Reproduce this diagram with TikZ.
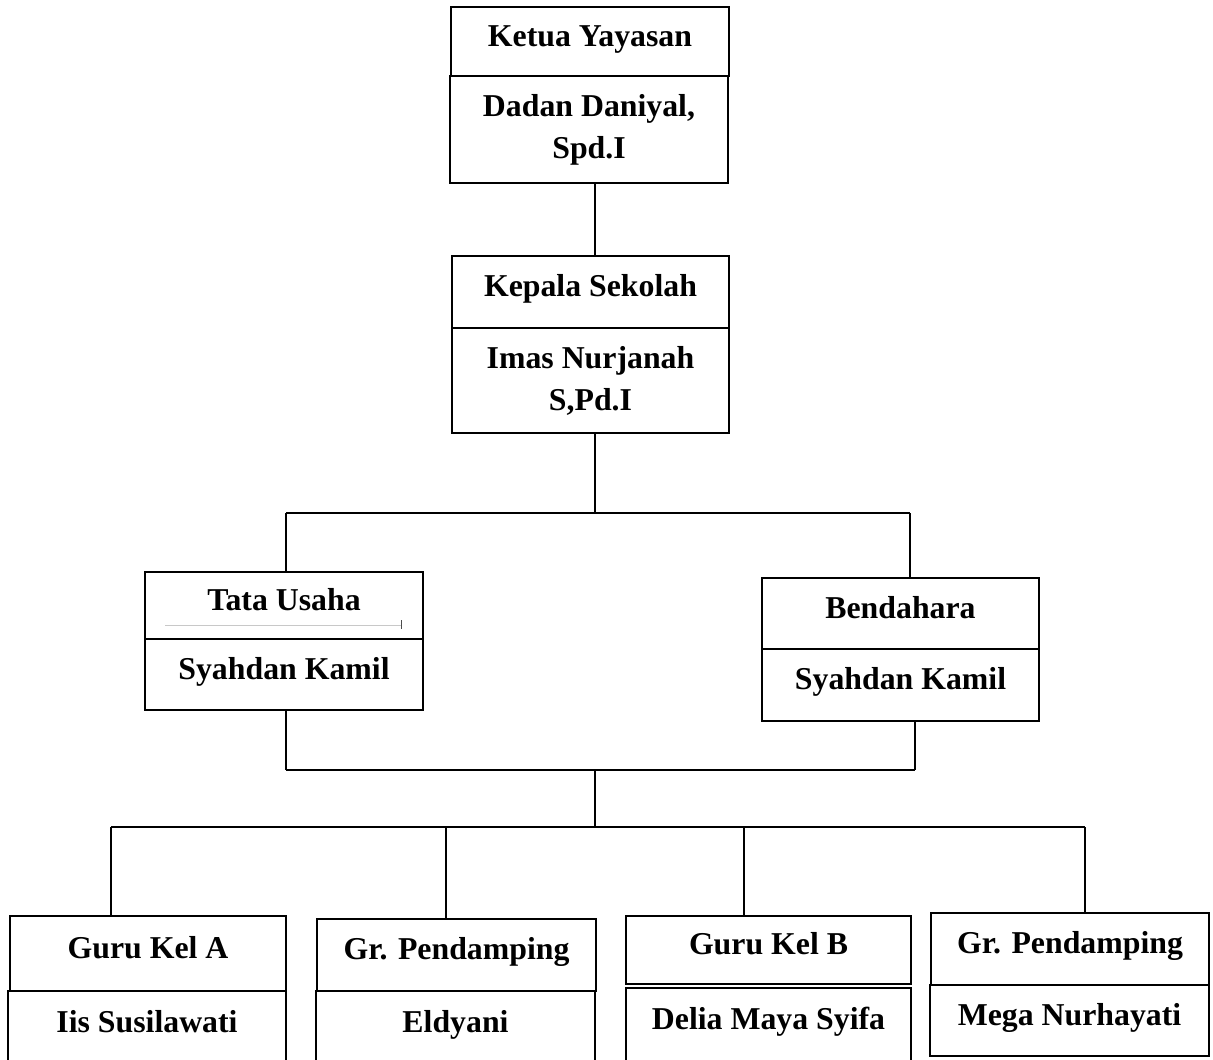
\documentclass[tikz,border=0pt]{standalone}
\usepackage{fontspec}
\setmainfont{Liberation Serif}
\usepackage{xcolor}
\definecolor{Hitam}{RGB}{0, 0, 0}
\definecolor{AbuMuda}{RGB}{200, 200, 200}
\tikzset{
    kotak/.style={draw=Hitam, line width=0.7pt, inner sep=0pt, align=center,
        font=\fontsize{15.9}{21}\selectfont\bfseries},
    satu/.style={kotak, text height=9.5pt, text depth=4.8pt},
    terbuka/.style={kotak, text height=20.5pt, text depth=40pt, anchor=base},
    garis/.style={draw=Hitam, line width=1pt},
    bus/.style={draw=Hitam, line width=1.4pt}
}

\begin{document}
\begin{tikzpicture}[x=0.5pt, y=-0.5pt]
            \useasboundingbox (0,0) rectangle (1213,1059);
            %Yayasan dan sekolah
            \node[satu, minimum width=139pt, minimum height=34.5pt] (A) at (590,41.5) {Ketua Yayasan};
            \node[kotak, minimum width=139pt, minimum height=53.5pt] (B) at (589,129.5) {Dadan Daniyal,\\Spd.I};
            \node[satu, minimum width=138.5pt, minimum height=36pt] (C) at (590.5,292) {Kepala Sekolah};
            \node[kotak, minimum width=138.5pt, minimum height=52.5pt] (D) at (590.5,380.5) {Imas Nurjanah\\S,Pd.I};
            %Tata usaha dan bendahara
            \node[satu, minimum width=139pt, minimum height=33.5pt] (E) at (284,605.5) {Tata Usaha};
            \node[satu, minimum width=139pt, minimum height=35.5pt] (F) at (284,674.5) {Syahdan Kamil};
            \draw[AbuMuda, line width=0.4pt] (165,625) -- (401,625);
            \draw[Hitam!70, line width=0.5pt] (401,620) -- (401,629);
            \node[satu, minimum width=138.5pt, minimum height=35.5pt] (G) at (900.5,613.5) {Bendahara};
            \node[satu, minimum width=138.5pt, minimum height=36pt] (H) at (900.5,685) {Syahdan Kamil};
            %Guru
            \node[satu, minimum width=138pt, minimum height=37.5pt] (I) at (148,953.5) {Guru Kel A};
            \node[terbuka, minimum width=139pt] (J) at (147,1032) {Iis Susilawati};
            \node[satu, minimum width=139.5pt, minimum height=36pt] (K) at (456.5,955) {Gr. Pendamping};
            \node[terbuka, minimum width=139.5pt] (L) at (455.5,1032) {Eldyani};
            \node[satu, minimum width=142.5pt, minimum height=34pt] (M) at (768.5,950) {Guru Kel B};
            \node[terbuka, minimum width=142.5pt] (N) at (768.5,1029) {Delia Maya Syifa};
            \node[satu, minimum width=139pt, minimum height=36pt] (O) at (1070,949) {Gr. Pendamping};
            \node[satu, minimum width=139.5pt, minimum height=35.5pt] (P) at (1069.5,1020.5) {Mega Nurhayati};
            %Garis
            \coordinate (pusat) at (595,0);
            \coordinate (Q1) at (286,513);
            \coordinate (R1) at (910,513);
            \coordinate (Q2) at (286,770);
            \coordinate (R2) at (915,770);
            \coordinate (Q3) at (111,827);
            \coordinate (S3) at (446,827);
            \coordinate (T3) at (744,827);
            \coordinate (R3) at (1085,827);
            \draw[garis] (B.south -| pusat) -- (C.north -| pusat);
            \draw[garis] (D.south -| pusat) -- (Q1 -| pusat);
            \draw[bus] (Q1) -- (R1);
            \draw[garis] (Q1) -- (E.north -| Q1);
            \draw[garis] (R1) -- (G.north -| R1);
            \draw[garis] (F.south -| Q2) -- (Q2);
            \draw[garis] (H.south -| R2) -- (R2);
            \draw[bus] (Q2) -- (R2);
            \draw[garis] (Q2 -| pusat) -- (Q3 -| pusat);
            \draw[bus] (Q3) -- (R3);
            \draw[garis] (Q3) -- (I.north -| Q3);
            \draw[garis] (S3) -- (K.north -| S3);
            \draw[garis] (T3) -- (M.north -| T3);
            \draw[garis] (R3) -- (O.north -| R3);
        \end{tikzpicture}
\end{document}
